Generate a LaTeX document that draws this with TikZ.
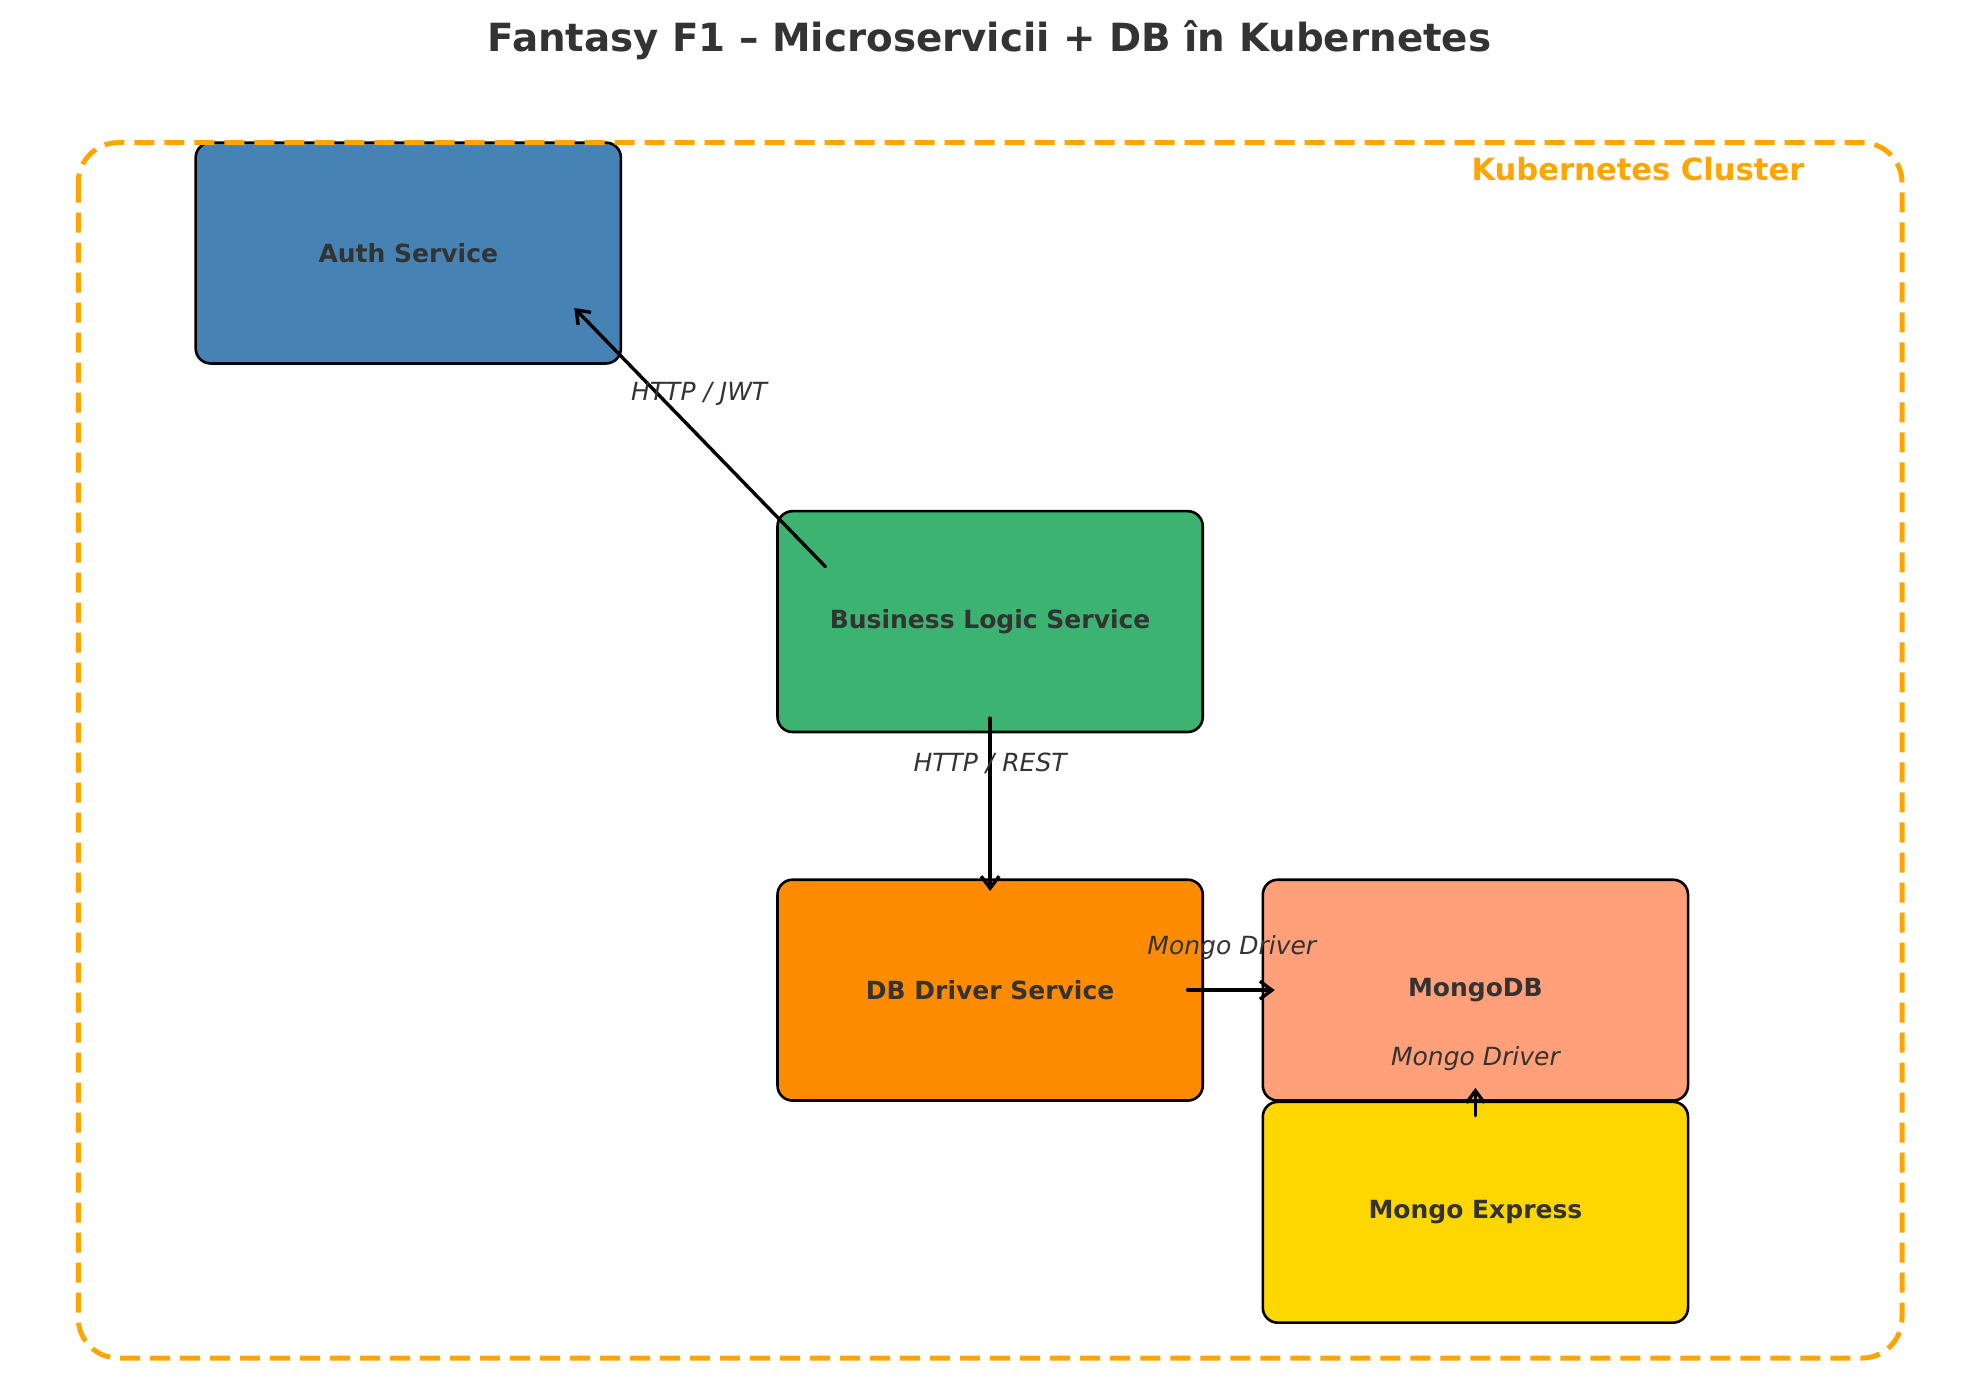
\documentclass[tikz,border=0pt]{standalone}
\usepackage{fontspec}
\setmainfont{DejaVu Sans}
\usetikzlibrary{arrows.meta}
\definecolor{txt}{HTML}{333333}
\definecolor{kub}{HTML}{FFA500}
\definecolor{cauth}{HTML}{4682B4}
\definecolor{cbiz}{HTML}{3CB371}
\definecolor{cdbd}{HTML}{FF8C00}
\definecolor{cmongo}{HTML}{FFA07A}
\definecolor{cexp}{HTML}{FFD700}
\tikzset{
  svcbox/.style={draw=black, line width=1.3pt, rounded corners=7.5pt,
    minimum width=212.6pt, minimum height=110.4pt, inner sep=0pt,
    text=txt, font=\fontsize{12.5}{15}\selectfont\bfseries},
  lbl/.style={text=txt, font=\fontsize{12.5}{15}\selectfont\itshape, inner sep=0pt},
  conn/.style={line width=1.7pt, line cap=round, -{Straight Barb[length=6pt,width=9pt,line width=1.7pt]}},
  frame/.style={draw=kub, line width=2.5pt, dash pattern=on 10pt off 5pt, rounded corners=20pt}
}
\begin{document}
\begin{tikzpicture}[x=0.631pt, y=-0.631pt]
\useasboundingbox (0,0) rectangle (1568,1093);
\node[text=txt, font=\fontsize{19.4}{23}\selectfont\bfseries] (title) at (784,32) {Fantasy F1 – Microservicii + DB în Kubernetes};
\node[svcbox, fill=cauth] (auth) at (323.5,200.5) {Auth Service};
\node[svcbox, fill=cbiz] (biz) at (784.5,492.5) {Business Logic Service};
\node[svcbox, fill=cdbd] (dbd) at (784.5,784.5) {DB Driver Service};
\node[svcbox, fill=cmongo] (mongo) at (1169,784.5) {MongoDB};
\node[svcbox, fill=cexp] (exp) at (1169,960.5) {Mongo Express};
\draw[frame] (62,113) rectangle (1507,1076);
\node[text=kub, font=\fontsize{15.3}{18}\selectfont\bfseries, anchor=east, inner sep=0pt] (kcl) at (1430,134) {Kubernetes Cluster};
\coordinate (a1s) at (654,449);
\coordinate (a1e) at (455,244);
\coordinate (a2s) at (784.5,569);
\coordinate (a2e) at (784.5,706);
\coordinate (a3s) at (941,784.5);
\coordinate (a3e) at (1010,784.5);
\coordinate (a4s) at (1169,884);
\coordinate (a4e) at (1169,862);
\draw[conn] (a1s) -- (a1e);
\draw[conn] (a2s) -- (a2e);
\draw[conn] (a3s) -- (a3e);
\draw[conn] (a4s) -- (a4e);
\node[lbl] (l1) at (554,312) {HTTP / JWT};
\node[lbl] (l2) at (784.5,605) {HTTP / REST};
\node[lbl] (l3) at (976,751) {Mongo Driver};
\node[lbl] (l4) at (1169,839) {Mongo Driver};
\end{tikzpicture}
\end{document}
